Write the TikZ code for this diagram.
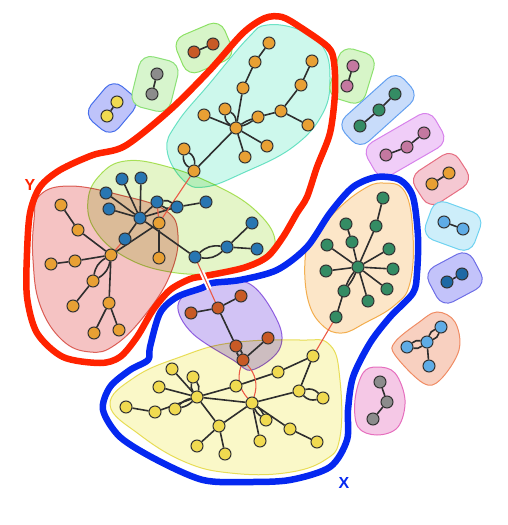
\documentclass[tikz,border=0pt]{standalone}
\usepackage{fontspec}
\newfontfamily\labfont{Liberation Sans}
\definecolor{nodeorange}{RGB}{232,160,52}
\definecolor{nodeblue}{RGB}{40,118,178}
\definecolor{nodegreen}{RGB}{52,140,100}
\definecolor{nodebrown}{RGB}{200,90,38}
\definecolor{nodeyellow}{RGB}{240,218,80}
\definecolor{nodegray}{RGB}{140,140,140}
\definecolor{nodemauve}{RGB}{196,120,160}
\definecolor{nodelblue}{RGB}{95,172,230}
\definecolor{nodedblue}{RGB}{30,105,165}
\definecolor{edgered}{RGB}{235,90,70}
\definecolor{yred}{RGB}{255,35,0}
\definecolor{xblue}{RGB}{5,40,240}
\definecolor{cyanF}{RGB}{205,248,236}\definecolor{cyanD}{RGB}{120,230,205}
\definecolor{limeF}{RGB}{228,245,200}\definecolor{limeD}{RGB}{180,230,100}
\definecolor{redF}{RGB}{245,195,195}\definecolor{redD}{RGB}{225,110,100}
\definecolor{oraF}{RGB}{252,230,200}\definecolor{oraD}{RGB}{245,185,90}
\definecolor{purF}{RGB}{210,195,245}\definecolor{purD}{RGB}{160,110,230}
\definecolor{yelF}{RGB}{250,248,200}\definecolor{yelD}{RGB}{235,225,100}
\pgfdeclarelayer{hulls}
\pgfdeclarelayer{edgel}
\pgfsetlayers{hulls,edgel,main}
\tikzset{
  nd/.style={circle, draw=black!80, line width=1pt, minimum size=12pt, inner sep=0pt},
  on/.style={nd, fill=nodeorange},
  bn/.style={nd, fill=nodeblue},
  gn/.style={nd, fill=nodegreen},
  brn/.style={nd, fill=nodebrown},
  yn/.style={nd, fill=nodeyellow},
  grn/.style={nd, fill=nodegray},
  mn/.style={nd, fill=nodemauve},
  lbn/.style={nd, fill=nodelblue},
  dbn/.style={nd, fill=nodedblue},
  ed/.style={draw=black!82, line width=1.6pt},
  ie/.style={draw=edgered, line width=1.1pt},
  bighull/.style={line width=1pt, blend mode=multiply},
  shull/.style={line width=1pt, rounded corners=12pt, inner sep=0pt},
  bound/.style={line width=6.5pt, line join=round},
  lab/.style={font=\labfont\bfseries\fontsize{16}{16}\selectfont}
}
\begin{document}
\begin{tikzpicture}[x=1pt,y=-1pt]
\useasboundingbox (0,0) rectangle (507,525);
\begin{pgfonlayer}{hulls}
% big hulls
\filldraw[bighull, fill=cyanF, draw=cyanD] plot[smooth cycle, tension=0.7] coordinates {(167,150) (183,180) (205,187) (243,173) (293,147) (323,113) (330,77) (323,47) (300,30) (267,25) (248,38) (210,83) (177,123)};
\filldraw[bighull, fill=limeF, draw=limeD] plot[smooth cycle, tension=0.7] coordinates {(88,200) (100,175) (125,161) (165,166) (215,185) (255,210) (275,240) (262,263) (220,273) (170,272) (125,257) (95,230)};
\filldraw[bighull, fill=redF, draw=redD] plot[smooth cycle, tension=0.7] coordinates {(40,195) (70,186) (120,195) (165,210) (178,235) (170,275) (145,315) (115,345) (90,352) (62,340) (40,305) (33,260) (34,220)};
\filldraw[bighull, fill=oraF, draw=oraD] plot[smooth cycle, tension=0.7] coordinates {(383,183) (405,192) (413,235) (410,283) (395,305) (365,323) (342,333) (322,325) (308,300) (305,260) (312,240) (335,212) (362,190)};
\filldraw[bighull, fill=yelF, draw=yelD] plot[smooth cycle, tension=0.7] coordinates {(110,405) (135,377) (180,357) (230,343) (300,340) (330,345) (340,380) (340,437) (325,460) (285,473) (230,473) (185,462) (140,435)};
\filldraw[bighull, fill=purF, draw=purD] plot[smooth cycle, tension=0.6] coordinates {(178,305) (200,286) (248,283) (278,322) (279,350) (252,370) (233,360) (192,333)};
% small hulls
\node[shull, minimum width=46pt, minimum height=36pt, rotate=50, fill={rgb,255:red,190;green,195;blue,250}, draw={rgb,255:red,70;green,110;blue,235}] (h1) at (112,108) {};
\node[shull, minimum width=52pt, minimum height=40pt, rotate=76, fill={rgb,255:red,215;green,245;blue,205}, draw={rgb,255:red,140;green,225;blue,120}] (h2) at (155,84) {};
\node[shull, minimum width=52pt, minimum height=40pt, rotate=23, fill={rgb,255:red,215;green,245;blue,200}, draw={rgb,255:red,140;green,225;blue,100}] (h3) at (204,48) {};
\node[shull, minimum width=52pt, minimum height=37pt, rotate=73, fill={rgb,255:red,215;green,245;blue,200}, draw={rgb,255:red,140;green,225;blue,110}] (h4) at (352,76) {};
\node[shull, minimum width=80pt, minimum height=34pt, rotate=42, fill={rgb,255:red,200;green,220;blue,250}, draw={rgb,255:red,100;green,160;blue,240}] (h5) at (378,110) {};
\node[shull, minimum width=78pt, minimum height=38pt, rotate=30, fill={rgb,255:red,240;green,205;blue,248}, draw={rgb,255:red,215;green,130;blue,235}] (h6) at (405,145) {};
\node[shull, minimum width=52pt, minimum height=38pt, rotate=33, fill={rgb,255:red,245;green,200;blue,210}, draw={rgb,255:red,230;green,110;blue,130}] (h7) at (441,179) {};
\node[shull, minimum width=52pt, minimum height=40pt, rotate=-20, fill={rgb,255:red,205;green,238;blue,250}, draw={rgb,255:red,110;green,210;blue,240}] (h8) at (453,226) {};
\node[shull, minimum width=50pt, minimum height=40pt, rotate=28, fill={rgb,255:red,195;green,195;blue,250}, draw={rgb,255:red,110;green,110;blue,230}] (h9) at (455,278) {};
\filldraw[line width=1pt, fill={rgb,255:red,248;green,208;blue,192}, draw={rgb,255:red,240;green,140;blue,100}] plot[smooth cycle, tension=0.6] coordinates {(437,312) (455,322) (459,350) (440,380) (423,383) (395,355) (395,342) (418,323)};
\filldraw[line width=1pt, fill={rgb,255:red,245;green,200;blue,230}, draw={rgb,255:red,230;green,110;blue,190}] plot[smooth cycle, tension=0.6] coordinates {(377,367) (395,373) (405,400) (398,427) (377,435) (358,427) (355,400) (363,373)};
% boundaries
\draw[bound, draw=yred] plot[smooth cycle, tension=0.5] coordinates {(60,170) (93,155) (125,146) (170,110) (210,70) (243,33) (265,18) (282,17) (300,27) (328,47) (334,62) (335,93) (330,133) (317,167) (307,197) (297,213) (283,237) (267,257) (243,268) (205,276) (190,279) (170,290) (153,310) (137,337) (120,357) (100,363) (63,357) (37,333) (27,297) (27,253) (30,213) (40,187)};
\draw[bound, draw=xblue] plot[smooth cycle, tension=0.5] coordinates {(212,283) (240,280) (277,270) (307,247) (330,213) (353,187) (377,177) (400,180) (413,197) (418,237) (417,273) (413,293) (390,317) (370,343) (353,377) (348,410) (347,440) (330,467) (290,480) (247,482) (203,480) (157,460) (120,437) (103,410) (110,387) (130,370) (148,360) (150,347) (160,313) (177,297) (202,288)};
\draw[white, line width=5pt] (201.3,271) -- (209.5,289);
\end{pgfonlayer}
\node[lab, text=yred] (ylab) at (30,185) {Y};
\node[lab, text=xblue] (xlab) at (344,483) {X};
% ---- nodes: cyan cluster
\node[on] (c1) at (269,43) {}; \node[on] (c2) at (255,62) {}; \node[on] (c3) at (243,88) {};
\node[on] (c0) at (236,128) {}; \node[on] (c4) at (225,109) {}; \node[on] (c5) at (204,115) {};
\node[on] (c6) at (258,117) {}; \node[on] (c7) at (281,111) {}; \node[on] (c8) at (301,85) {};
\node[on] (c9) at (312,61) {}; \node[on] (c10) at (308,125) {}; \node[on] (c11) at (267,146) {};
\node[on] (c12) at (245,157) {}; \node[on] (c13) at (184,149) {}; \node[on] (c14) at (194,171) {};
% green cluster
\node[bn] (b1) at (122,179) {}; \node[bn] (b2) at (141,178) {}; \node[bn] (b3) at (106,193) {};
\node[bn] (b4) at (109,209) {}; \node[bn] (b0) at (140,218) {}; \node[bn] (b5) at (157,202) {};
\node[bn] (b6) at (177,207) {}; \node[bn] (b7) at (206,202) {}; \node[bn] (b8) at (125,239) {};
\node[bn] (b9) at (195,257) {}; \node[bn] (b10) at (227,247) {}; \node[bn] (b11) at (252,223) {};
\node[bn] (b12) at (257,249) {};
% red cluster
\node[on] (r0) at (111,255) {}; \node[on] (r1) at (61,205) {}; \node[on] (r2) at (78,230) {};
\node[on] (r3) at (75,261) {}; \node[on] (r4) at (51,264) {}; \node[on] (r5) at (93,281) {};
\node[on] (r6) at (73,306) {}; \node[on] (r7) at (109,303) {}; \node[on] (r8) at (94,333) {};
\node[on] (r9) at (119,330) {}; \node[on] (r10) at (159,223) {}; \node[on] (r11) at (159,258) {};
% orange cluster
\node[gn] (g1) at (383,198) {}; \node[gn] (g2) at (376,226) {}; \node[gn] (g3) at (346,224) {};
\node[gn] (g4) at (352,242) {}; \node[gn] (g5) at (327,245) {}; \node[gn] (g6) at (389,249) {};
\node[gn] (g0) at (358,267) {}; \node[gn] (g7) at (326,271) {}; \node[gn] (g8) at (393,269) {};
\node[gn] (g9) at (387,289) {}; \node[gn] (g10) at (344,291) {}; \node[gn] (g11) at (368,301) {};
\node[gn] (g12) at (336,317) {};
% purple cluster
\node[brn] (p1) at (191,313) {}; \node[brn] (p0) at (218,308) {}; \node[brn] (p2) at (241,296) {};
\node[brn] (p3) at (236,346) {}; \node[brn] (p4) at (243,360) {}; \node[brn] (p5) at (268,338) {};
% yellow cluster
\node[yn] (y1) at (172,369) {}; \node[yn] (y2) at (193,377) {}; \node[yn] (y3) at (159,387) {};
\node[yn] (y0) at (197,397) {}; \node[yn] (y4) at (126,407) {}; \node[yn] (y5) at (155,412) {};
\node[yn] (y6) at (175,409) {}; \node[yn] (y7) at (236,386) {}; \node[yn] (y8) at (278,372) {};
\node[yn] (y9) at (313,356) {}; \node[yn] (y10) at (299,391) {}; \node[yn] (y11) at (323,398) {};
\node[yn] (yh) at (252,403) {}; \node[yn] (y12) at (219,426) {}; \node[yn] (y13) at (197,446) {};
\node[yn] (y14) at (225,454) {}; \node[yn] (y15) at (266,420) {}; \node[yn] (y16) at (260,441) {};
\node[yn] (y17) at (290,429) {}; \node[yn] (y18) at (317,442) {};
% small clusters
\node[yn] (sa1) at (117,102) {}; \node[yn] (sa2) at (107,116) {};
\node[grn] (sb1) at (157,74) {}; \node[grn] (sb2) at (152,94) {};
\node[brn] (sc1) at (194,52) {}; \node[brn] (sc2) at (213,44) {};
\node[mn] (sd1) at (353,66) {}; \node[mn] (sd2) at (347,86) {};
\node[gn] (se1) at (395,94) {}; \node[gn] (se2) at (379,110) {}; \node[gn] (se3) at (360,126) {};
\node[mn] (sf1) at (424,133) {}; \node[mn] (sf2) at (407,147) {}; \node[mn] (sf3) at (386,155) {};
\node[on] (sg1) at (449,173) {}; \node[on] (sg2) at (432,184) {};
\node[lbn] (sh1) at (444,222) {}; \node[lbn] (sh2) at (463,229) {};
\node[dbn] (si1) at (447,282) {}; \node[dbn] (si2) at (462,274) {};
\node[lbn] (sj1) at (407,347) {}; \node[lbn] (sj0) at (427,342) {}; \node[lbn] (sj2) at (441,327) {}; \node[lbn] (sj3) at (429,366) {};
\node[grn] (sk1) at (380,382) {}; \node[grn] (sk2) at (387,402) {}; \node[grn] (sk3) at (373,419) {};
% ---- edges
\begin{pgfonlayer}{edgel}
% cyan
\draw[ed] (c1) -- (c2) -- (c3) -- (c0);
\draw[ed] (c0) to[bend left=30] (c4); \draw[ed] (c0) to[bend right=30] (c4);
\draw[ed] (c0) -- (c5);
\draw[ed] (c0) to[bend left=8] (c6); \draw[ed] (c0) to[bend right=8] (c6);
\draw[ed] (c6) -- (c7) -- (c8) -- (c9);
\draw[ed] (c7) -- (c10);
\draw[ed] (c0) -- (c11); \draw[ed] (c0) -- (c12); \draw[ed] (c0) -- (c14);
\draw[ed] (c14) to[bend left=30] (c13); \draw[ed] (c14) to[bend right=30] (c13);
% green
\draw[ed] (b0) -- (b1); \draw[ed] (b0) -- (b2); \draw[ed] (b0) -- (b3); \draw[ed] (b0) -- (b4);
\draw[ed] (b0) -- (b5); \draw[ed] (b0) -- (b6); \draw[ed] (b0) -- (b8); \draw[ed] (b0) -- (b9);
\draw[ed] (b5) to[bend left=25] (b6); \draw[ed] (b5) to[bend right=25] (b6);
\draw[ed] (b6) -- (b7);
\draw[ed] (b9) to[bend left=25] (b10); \draw[ed] (b9) to[bend right=25] (b10);
\draw[ed] (b10) -- (b11); \draw[ed] (b10) -- (b12);
% red
\draw[ed] (r1) -- (r2) -- (r0) -- (r3) -- (r4);
\draw[ed] (r0) to[bend left=25] (r5); \draw[ed] (r0) to[bend right=25] (r5);
\draw[ed] (r5) -- (r6);
\draw[ed] (r0) -- (r7); \draw[ed] (r7) -- (r8); \draw[ed] (r7) -- (r9);
\draw[ed] (r0) -- (r10); \draw[ed] (r10) -- (r11);
% orange
\draw[ed] (g1) -- (g2) -- (g0); \draw[ed] (g3) -- (g4) -- (g0);
\draw[ed] (g0) -- (g5); \draw[ed] (g0) -- (g6); \draw[ed] (g0) -- (g7); \draw[ed] (g0) -- (g8);
\draw[ed] (g0) -- (g9); \draw[ed] (g0) -- (g11);
\draw[ed] (g0) to[bend left=8] (g10); \draw[ed] (g0) to[bend right=8] (g10);
\draw[ed] (g10) -- (g12);
% purple
\draw[ed] (p1) -- (p0) -- (p2); \draw[ed] (p0) -- (p3);
\draw[ed] (p3) to[bend left=20] (p4); \draw[ed] (p3) to[bend right=20] (p4);
\draw[ed] (p4) -- (p5);
% yellow
\draw[ed] (y0) -- (y1); \draw[ed] (y0) -- (y3);
\draw[ed] (y0) to[bend left=25] (y2); \draw[ed] (y0) to[bend right=25] (y2);
\draw[ed] (y4) -- (y5) -- (y0);
\draw[ed] (y0) to[bend left=15] (y6); \draw[ed] (y0) to[bend right=15] (y6);
\draw[ed] (y0) -- (y7) -- (y8) -- (y9);
\draw[ed] (y0) -- (yh); \draw[ed] (yh) -- (y10) -- (y9);
\draw[ed] (y10) to[bend left=30] (y11); \draw[ed] (y10) to[bend right=30] (y11);
\draw[ed] (y0) -- (y12); \draw[ed] (yh) -- (y12);
\draw[ed] (y12) -- (y13); \draw[ed] (y12) -- (y14);
\draw[ed] (yh) to[bend left=15] (y15); \draw[ed] (yh) to[bend right=15] (y15);
\draw[ed] (yh) -- (y16); \draw[ed] (yh) -- (y17) -- (y18);
% small clusters
\draw[ed] (sa1) -- (sa2); \draw[ed] (sb1) -- (sb2); \draw[ed] (sc1) -- (sc2);
\draw[ed] (sd1) -- (sd2); \draw[ed] (se1) -- (se2) -- (se3);
\draw[ed] (sf1) -- (sf2) -- (sf3); \draw[ed] (sg1) -- (sg2);
\draw[ed] (sh1) -- (sh2); \draw[ed] (si1) -- (si2);
\draw[ed] (sj1) to[bend left=25] (sj0); \draw[ed] (sj1) to[bend right=25] (sj0);
\draw[ed] (sj0) to[bend left=25] (sj2); \draw[ed] (sj0) to[bend right=25] (sj2);
\draw[ed] (sj0) -- (sj3);
\draw[ed] (sk1) -- (sk2) -- (sk3);
% inter-cluster
\draw[ie] (c14) -- (r10); \draw[ie] (r10) -- (b5); \draw[ie] (r0) -- (b8);
\draw[ie] (b9) -- (p0); \draw[ie] (g12) -- (y9);
\draw[ie] (p4) to[bend left=30] (yh); \draw[ie] (p4) to[bend right=30] (yh);
\end{pgfonlayer}
\end{tikzpicture}
\end{document}
